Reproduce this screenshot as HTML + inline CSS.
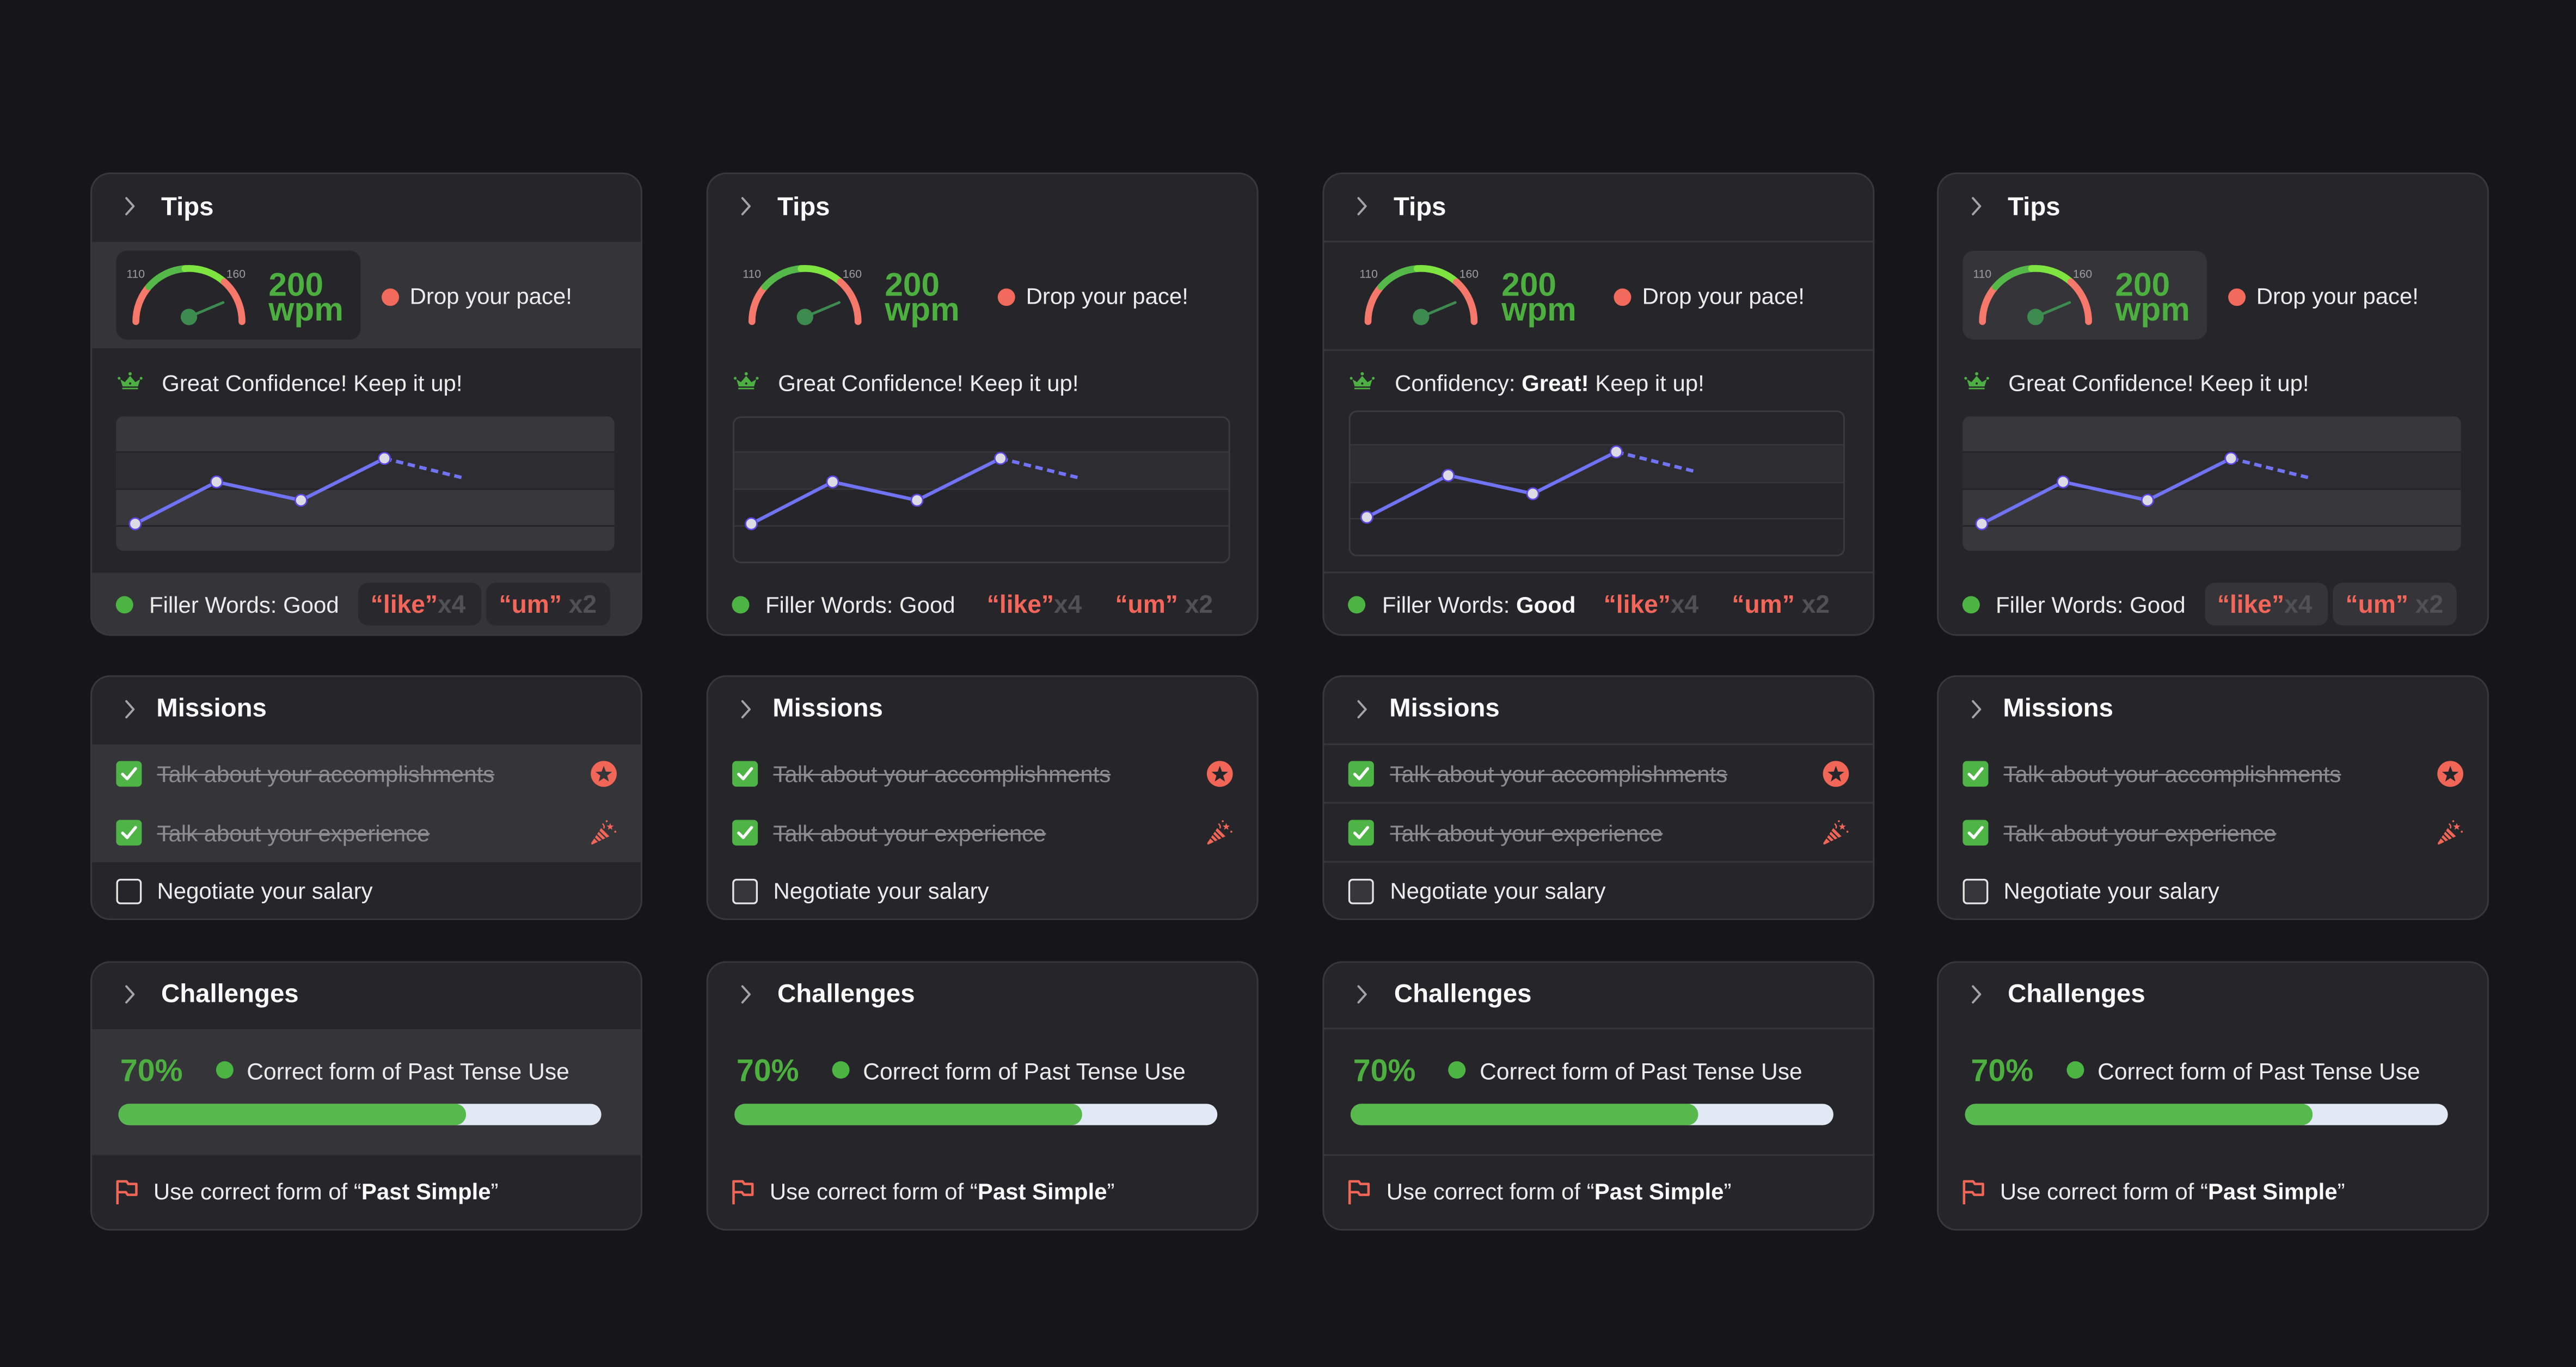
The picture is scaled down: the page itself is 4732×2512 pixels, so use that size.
<!DOCTYPE html>
<html><head><meta charset="utf-8">
<style>
*{margin:0;padding:0;box-sizing:border-box}
html,body{width:4732px;height:2512px;overflow:hidden;background:#15151a}
#root{position:absolute;left:0;top:0;width:1568px;height:832px;transform-origin:0 0;transform:scale(3.017857,3.019231);font-family:"Liberation Sans",Arial,sans-serif}
.card{position:absolute;width:336px;border-radius:12px;overflow:hidden;background:#26262a}
.bd{position:absolute;left:0;top:0;right:0;bottom:0;border:1px solid #38383d;border-radius:12px}
.card svg{position:absolute;left:0;top:0}
.t{position:absolute;white-space:nowrap;line-height:1;color:#ececec;font-size:13.9px}
.h{font-size:15.7px;font-weight:bold;color:#fafafa}
.gl{font-size:7px;color:#9c9ca1}
.g{color:#4caf3f;font-weight:bold}
.w{font-size:20px;color:#4caf3f;font-weight:bold}
.st{color:#8b8b90;text-decoration:line-through}
.chip{font-size:15.3px;font-weight:bold}
.r{color:#f4665a}
.x{color:#505055}
b{font-weight:bold;color:#fafafa}
</style></head><body><div id="root">

<!-- ================= COLUMN 1 ================= -->
<div class="card" style="left:54.6px;top:105px;height:281.5px">
<svg width="336" height="281.5" viewBox="0 0 336 281.5">
<rect x="0" y="42.2" width="336" height="64.8" fill="#343439"/>
<rect x="15.7" y="47.5" width="148.8" height="54.2" rx="6.6" fill="#26262a"/>
<rect x="0" y="243.6" width="336" height="38" fill="#343439"/>
<rect x="163.1" y="249.7" width="74.9" height="26" rx="6" fill="#28282d"/>
<rect x="240.9" y="249.7" width="75.5" height="26" rx="6" fill="#28282d"/>
<polyline points="21.9,15.6 26.3,20.5 21.9,25.4" fill="none" stroke="#a3a3a8" stroke-width="1.3" stroke-linecap="round" stroke-linejoin="round"/>
<g fill="none" stroke-width="4.2" stroke-linecap="round">
<path d="M27.7,90.7 A32.3,32.3 0 0 1 35.62,69.51" stroke="#f5786a"/>
<path d="M35.62,69.51 A32.3,32.3 0 0 1 57.64,58.49" stroke="#54b948"/>
<path d="M57.64,58.49 A32.3,32.3 0 0 1 81.49,66.58" stroke="#7ee540"/>
<path d="M81.49,66.58 A32.3,32.3 0 0 1 92.3,90.7" stroke="#f5786a"/>
</g>
<line x1="60" y1="87.9" x2="80.8" y2="79.1" stroke="#3e8b4f" stroke-width="1.6" stroke-linecap="round"/>
<circle cx="60" cy="87.9" r="5" fill="#3e8b4f"/>
<circle cx="182.6" cy="75.9" r="5.3" fill="#f26a5c"/>
<g fill="#4db043"><circle cx="17.5" cy="125.2" r="0.85"/><circle cx="24.2" cy="122.5" r="1"/><circle cx="30.9" cy="125.2" r="0.85"/>
<polygon points="18.3,125.9 19.6,130.2 29,130.2 30.3,125.9 27.4,127.6 24.2,123.8 21,127.6"/><rect x="19.4" y="131" width="9.6" height="0.9"/></g>
<circle cx="24.2" cy="128.4" r="0.7" fill="#26262a"/>
<rect x="15.7" y="148.4" width="303.3" height="81.8" rx="4.4" fill="#37373c"/>
<rect x="15.7" y="170.1" width="303.3" height="22.6" fill="#2c2c31"/>
<rect x="15.7" y="169.7" width="303.3" height="0.8" fill="#222226"/>
<rect x="15.7" y="192.4" width="303.3" height="0.8" fill="#222226"/>
<rect x="15.7" y="214.7" width="303.3" height="0.8" fill="#222226"/>
<polyline points="27.3,213.8 76.8,188.3 128.2,199.5 179,174" fill="none" stroke="#7073f3" stroke-width="2.1" stroke-linejoin="round"/>
<line x1="179" y1="174" x2="227" y2="185.9" stroke="#7073f3" stroke-width="2.1" stroke-dasharray="4.5 2.8"/>
<g fill="#dcdae4" stroke="#5a46e0" stroke-width="0.9"><circle cx="27.3" cy="213.8" r="3.5"/><circle cx="76.8" cy="188.3" r="3.5"/><circle cx="128.2" cy="199.5" r="3.5"/><circle cx="179" cy="174" r="3.5"/></g>
<circle cx="20.8" cy="263.1" r="5.3" fill="#4cb443"/>
</svg>
<div class="t h" style="left:43.5px;top:13.5px">Tips</div>
<div class="t gl" style="left:22.4px;top:58.6px">110</div>
<div class="t gl" style="left:83.2px;top:58.6px">160</div>
<div class="t w" style="left:108.9px;top:59.3px">200</div>
<div class="t w" style="left:108.9px;top:74.2px">wpm</div>
<div class="t" style="left:194.8px;top:69px">Drop your pace!</div>
<div class="t" style="left:43.9px;top:121.5px">Great Confidence! Keep it up!</div>
<div class="t" style="left:36.2px;top:256.6px">Filler Words: Good</div>
<div class="t chip" style="left:171px;top:255.8px"><span class="r">“like”</span><span class="x">x4</span></div>
<div class="t chip" style="left:249.1px;top:255.8px"><span class="r">“um”</span><span class="x"> x2</span></div>
<div class="bd"></div>
</div>

<div class="card" style="left:54.6px;top:411px;height:149px">
<svg width="336" height="149" viewBox="0 0 336 149">
<rect x="0" y="42.1" width="336" height="71.7" fill="#343439"/>
<polyline points="21.9,15.8 26.3,20.7 21.9,25.6" fill="none" stroke="#a3a3a8" stroke-width="1.3" stroke-linecap="round" stroke-linejoin="round"/>
<rect x="15.7" y="52.2" width="15.6" height="15.6" rx="2.5" fill="#4db445"/>
<polyline points="19.6,60.2 22.4,63 27.5,56.8" fill="none" stroke="#fff" stroke-width="1.8" stroke-linecap="round" stroke-linejoin="round"/>
<rect x="15.7" y="88" width="15.6" height="15.6" rx="2.5" fill="#4db445"/>
<polyline points="19.6,96 22.4,98.8 27.5,92.6" fill="none" stroke="#fff" stroke-width="1.8" stroke-linecap="round" stroke-linejoin="round"/>
<rect x="16.3" y="124.4" width="14.4" height="14.4" rx="2" fill="none" stroke="#e6e6e6" stroke-width="1.1"/>
<circle cx="312.5" cy="60" r="7.9" fill="#f26658"/>
<polygon transform="translate(312.5,60.4) scale(1.15)" points="0,-4.6 1.117,-1.537 4.375,-1.421 1.807,0.587 2.704,3.721 0,1.9 -2.704,3.721 -1.807,0.587 -4.375,-1.421 -1.117,-1.537" fill="#343439"/>
<g transform="translate(312.5,95.8)">
<path d="M-7.6,6.2 Q-7.8,7.6 -6.5,7 L3.4,2.2 L-1.6,-2.8 Z" fill="#f26658"/>
<g stroke="#343439" stroke-width="0.8"><line x1="-3" y1="-1.1" x2="1.5" y2="3.4"/><line x1="-4.3" y1="1" x2="-0.9" y2="4.4"/><line x1="-5.6" y1="3.1" x2="-3.2" y2="5.5"/></g>
<polygon transform="translate(3.9,-3.6) scale(0.5)" points="0,-4.6 1.117,-1.537 4.375,-1.421 1.807,0.587 2.704,3.721 0,1.9 -2.704,3.721 -1.807,0.587 -4.375,-1.421 -1.117,-1.537" fill="#f26658"/>
<circle cx="1.8" cy="-7" r="0.6" fill="#f26658"/><circle cx="7" cy="-0.6" r="0.6" fill="#f26658"/>
<path d="M-0.8,-5.5 Q0.8,-4 0,-2.6" fill="none" stroke="#f26658" stroke-width="0.8"/>
</g>
</svg>
<div class="t h" style="left:40.6px;top:13.4px">Missions</div>
<div class="t st" style="left:41px;top:53.7px">Talk about your accomplishments</div>
<div class="t st" style="left:41px;top:89.5px">Talk about your experience</div>
<div class="t" style="left:41px;top:125px">Negotiate your salary</div>
<div class="bd"></div>
</div>

<div class="card" style="left:54.6px;top:585.2px;height:164px">
<svg width="336" height="164" viewBox="0 0 336 164">
<rect x="0" y="41.3" width="336" height="76.7" fill="#343439"/>
<polyline points="21.9,15.3 26.3,20.2 21.9,25.1" fill="none" stroke="#a3a3a8" stroke-width="1.3" stroke-linecap="round" stroke-linejoin="round"/>
<circle cx="81.8" cy="66.2" r="5.3" fill="#4cb443"/>
<rect x="17.1" y="86.8" width="293.9" height="13" rx="6.5" fill="#e1eaf4"/>
<rect x="17.1" y="86.8" width="211.6" height="13" rx="6.5" fill="#57b94d"/>
<path d="M16.5,148 V134 H22 L23.1,135.6 H28 V142.2 H22.7 L21.6,140.6 H16.5" fill="none" stroke="#f26658" stroke-width="1.5" stroke-linejoin="round"/>
</svg>
<div class="t h" style="left:43.5px;top:13.2px">Challenges</div>
<div class="t g" style="left:18.6px;top:57.9px;font-size:19px">70%</div>
<div class="t" style="left:95.6px;top:59.5px;font-size:14.1px">Correct form of Past Tense Use</div>
<div class="t" style="left:38.8px;top:133.5px">Use correct form of “<b>Past Simple</b>”</div>
<div class="bd"></div>
</div>

<!-- ================= COLUMN 2 ================= -->
<div class="card" style="left:429.7px;top:105px;height:281.5px">
<svg width="336" height="281.5" viewBox="0 0 336 281.5">
<polyline points="21.9,15.6 26.3,20.5 21.9,25.4" fill="none" stroke="#a3a3a8" stroke-width="1.3" stroke-linecap="round" stroke-linejoin="round"/>
<g fill="none" stroke-width="4.2" stroke-linecap="round">
<path d="M27.7,90.7 A32.3,32.3 0 0 1 35.62,69.51" stroke="#f5786a"/>
<path d="M35.62,69.51 A32.3,32.3 0 0 1 57.64,58.49" stroke="#54b948"/>
<path d="M57.64,58.49 A32.3,32.3 0 0 1 81.49,66.58" stroke="#7ee540"/>
<path d="M81.49,66.58 A32.3,32.3 0 0 1 92.3,90.7" stroke="#f5786a"/>
</g>
<line x1="60" y1="87.9" x2="80.8" y2="79.1" stroke="#3e8b4f" stroke-width="1.6" stroke-linecap="round"/>
<circle cx="60" cy="87.9" r="5" fill="#3e8b4f"/>
<circle cx="182.6" cy="75.9" r="5.3" fill="#f26a5c"/>
<g fill="#4db043"><circle cx="17.5" cy="125.2" r="0.85"/><circle cx="24.2" cy="122.5" r="1"/><circle cx="30.9" cy="125.2" r="0.85"/>
<polygon points="18.3,125.9 19.6,130.2 29,130.2 30.3,125.9 27.4,127.6 24.2,123.8 21,127.6"/><rect x="19.4" y="131" width="9.6" height="0.9"/></g>
<circle cx="24.2" cy="128.4" r="0.7" fill="#26262a"/>
<rect x="17" y="170.1" width="301" height="22.5" fill="#2c2c31"/>
<rect x="17" y="169.7" width="301" height="0.8" fill="#37373c"/>
<rect x="17" y="192.3" width="301" height="0.8" fill="#37373c"/>
<rect x="17" y="214.7" width="301" height="0.8" fill="#37373c"/>
<rect x="16.5" y="148.9" width="301.8" height="88.4" rx="4.4" fill="none" stroke="#3a3a3f" stroke-width="1"/>
<polyline points="27.3,213.8 76.8,188.3 128.2,199.5 179,174" fill="none" stroke="#7073f3" stroke-width="2.1" stroke-linejoin="round"/>
<line x1="179" y1="174" x2="227" y2="185.9" stroke="#7073f3" stroke-width="2.1" stroke-dasharray="4.5 2.8"/>
<g fill="#dcdae4" stroke="#5a46e0" stroke-width="0.9"><circle cx="27.3" cy="213.8" r="3.5"/><circle cx="76.8" cy="188.3" r="3.5"/><circle cx="128.2" cy="199.5" r="3.5"/><circle cx="179" cy="174" r="3.5"/></g>
<circle cx="20.8" cy="263.1" r="5.3" fill="#4cb443"/>
</svg>
<div class="t h" style="left:43.5px;top:13.5px">Tips</div>
<div class="t gl" style="left:22.4px;top:58.6px">110</div>
<div class="t gl" style="left:83.2px;top:58.6px">160</div>
<div class="t w" style="left:108.9px;top:59.3px">200</div>
<div class="t w" style="left:108.9px;top:74.2px">wpm</div>
<div class="t" style="left:194.8px;top:69px">Drop your pace!</div>
<div class="t" style="left:43.9px;top:121.5px">Great Confidence! Keep it up!</div>
<div class="t" style="left:36.2px;top:256.6px">Filler Words: Good</div>
<div class="t chip" style="left:171px;top:255.8px"><span class="r">“like”</span><span class="x">x4</span></div>
<div class="t chip" style="left:249.1px;top:255.8px"><span class="r">“um”</span><span class="x"> x2</span></div>
<div class="bd"></div>
</div>

<div class="card" style="left:429.7px;top:411px;height:149px">
<svg width="336" height="149" viewBox="0 0 336 149">
<polyline points="21.9,15.8 26.3,20.7 21.9,25.6" fill="none" stroke="#a3a3a8" stroke-width="1.3" stroke-linecap="round" stroke-linejoin="round"/>
<rect x="15.7" y="52.2" width="15.6" height="15.6" rx="2.5" fill="#4db445"/>
<polyline points="19.6,60.2 22.4,63 27.5,56.8" fill="none" stroke="#fff" stroke-width="1.8" stroke-linecap="round" stroke-linejoin="round"/>
<rect x="15.7" y="88" width="15.6" height="15.6" rx="2.5" fill="#4db445"/>
<polyline points="19.6,96 22.4,98.8 27.5,92.6" fill="none" stroke="#fff" stroke-width="1.8" stroke-linecap="round" stroke-linejoin="round"/>
<rect x="16.3" y="124.4" width="14.4" height="14.4" rx="2" fill="#36363b" stroke="#e6e6e6" stroke-width="1.1"/>
<circle cx="312.5" cy="60" r="7.9" fill="#f26658"/>
<polygon transform="translate(312.5,60.4) scale(1.15)" points="0,-4.6 1.117,-1.537 4.375,-1.421 1.807,0.587 2.704,3.721 0,1.9 -2.704,3.721 -1.807,0.587 -4.375,-1.421 -1.117,-1.537" fill="#26262a"/>
<g transform="translate(312.5,95.8)">
<path d="M-7.6,6.2 Q-7.8,7.6 -6.5,7 L3.4,2.2 L-1.6,-2.8 Z" fill="#f26658"/>
<g stroke="#26262a" stroke-width="0.8"><line x1="-3" y1="-1.1" x2="1.5" y2="3.4"/><line x1="-4.3" y1="1" x2="-0.9" y2="4.4"/><line x1="-5.6" y1="3.1" x2="-3.2" y2="5.5"/></g>
<polygon transform="translate(3.9,-3.6) scale(0.5)" points="0,-4.6 1.117,-1.537 4.375,-1.421 1.807,0.587 2.704,3.721 0,1.9 -2.704,3.721 -1.807,0.587 -4.375,-1.421 -1.117,-1.537" fill="#f26658"/>
<circle cx="1.8" cy="-7" r="0.6" fill="#f26658"/><circle cx="7" cy="-0.6" r="0.6" fill="#f26658"/>
<path d="M-0.8,-5.5 Q0.8,-4 0,-2.6" fill="none" stroke="#f26658" stroke-width="0.8"/>
</g>
</svg>
<div class="t h" style="left:40.6px;top:13.4px">Missions</div>
<div class="t st" style="left:41px;top:53.7px">Talk about your accomplishments</div>
<div class="t st" style="left:41px;top:89.5px">Talk about your experience</div>
<div class="t" style="left:41px;top:125px">Negotiate your salary</div>
<div class="bd"></div>
</div>

<div class="card" style="left:429.7px;top:585.2px;height:164px">
<svg width="336" height="164" viewBox="0 0 336 164">
<polyline points="21.9,15.3 26.3,20.2 21.9,25.1" fill="none" stroke="#a3a3a8" stroke-width="1.3" stroke-linecap="round" stroke-linejoin="round"/>
<circle cx="81.8" cy="66.2" r="5.3" fill="#4cb443"/>
<rect x="17.1" y="86.8" width="293.9" height="13" rx="6.5" fill="#e1eaf4"/>
<rect x="17.1" y="86.8" width="211.6" height="13" rx="6.5" fill="#57b94d"/>
<path d="M16.5,148 V134 H22 L23.1,135.6 H28 V142.2 H22.7 L21.6,140.6 H16.5" fill="none" stroke="#f26658" stroke-width="1.5" stroke-linejoin="round"/>
</svg>
<div class="t h" style="left:43.5px;top:13.2px">Challenges</div>
<div class="t g" style="left:18.6px;top:57.9px;font-size:19px">70%</div>
<div class="t" style="left:95.6px;top:59.5px;font-size:14.1px">Correct form of Past Tense Use</div>
<div class="t" style="left:38.8px;top:133.5px">Use correct form of “<b>Past Simple</b>”</div>
<div class="bd"></div>
</div>

<!-- ================= COLUMN 3 ================= -->
<div class="card" style="left:805.1px;top:105px;height:281.5px">
<svg width="336" height="281.5" viewBox="0 0 336 281.5">
<rect x="0" y="41.5" width="336" height="1" fill="#36363b"/>
<rect x="0" y="107.6" width="336" height="1" fill="#36363b"/>
<rect x="0" y="242.9" width="336" height="1" fill="#36363b"/>
<polyline points="21.9,15.6 26.3,20.5 21.9,25.4" fill="none" stroke="#a3a3a8" stroke-width="1.3" stroke-linecap="round" stroke-linejoin="round"/>
<g fill="none" stroke-width="4.2" stroke-linecap="round">
<path d="M27.7,90.7 A32.3,32.3 0 0 1 35.62,69.51" stroke="#f5786a"/>
<path d="M35.62,69.51 A32.3,32.3 0 0 1 57.64,58.49" stroke="#54b948"/>
<path d="M57.64,58.49 A32.3,32.3 0 0 1 81.49,66.58" stroke="#7ee540"/>
<path d="M81.49,66.58 A32.3,32.3 0 0 1 92.3,90.7" stroke="#f5786a"/>
</g>
<line x1="60" y1="87.9" x2="80.8" y2="79.1" stroke="#3e8b4f" stroke-width="1.6" stroke-linecap="round"/>
<circle cx="60" cy="87.9" r="5" fill="#3e8b4f"/>
<circle cx="182.6" cy="75.9" r="5.3" fill="#f26a5c"/>
<g fill="#4db043"><circle cx="17.5" cy="125.2" r="0.85"/><circle cx="24.2" cy="122.5" r="1"/><circle cx="30.9" cy="125.2" r="0.85"/>
<polygon points="18.3,125.9 19.6,130.2 29,130.2 30.3,125.9 27.4,127.6 24.2,123.8 21,127.6"/><rect x="19.4" y="131" width="9.6" height="0.9"/></g>
<circle cx="24.2" cy="128.4" r="0.7" fill="#26262a"/>
<rect x="17" y="165.7" width="300" height="23.1" fill="#2c2c31"/>
<rect x="17" y="165.3" width="300" height="0.8" fill="#37373c"/>
<rect x="17" y="188.4" width="300" height="0.8" fill="#37373c"/>
<rect x="17" y="210.3" width="300" height="0.8" fill="#37373c"/>
<rect x="16.5" y="145.3" width="301" height="87.8" rx="4.4" fill="none" stroke="#3a3a3f" stroke-width="1"/>
<polyline points="27,209.8 76.5,184.3 128,195.5 178.8,170" fill="none" stroke="#7073f3" stroke-width="2.1" stroke-linejoin="round"/>
<line x1="178.8" y1="170" x2="226.6" y2="181.9" stroke="#7073f3" stroke-width="2.1" stroke-dasharray="4.5 2.8"/>
<g fill="#dcdae4" stroke="#5a46e0" stroke-width="0.9"><circle cx="27" cy="209.8" r="3.5"/><circle cx="76.5" cy="184.3" r="3.5"/><circle cx="128" cy="195.5" r="3.5"/><circle cx="178.8" cy="170" r="3.5"/></g>
<circle cx="20.8" cy="263.1" r="5.3" fill="#4cb443"/>
</svg>
<div class="t h" style="left:43.2px;top:13.5px">Tips</div>
<div class="t gl" style="left:22.4px;top:58.6px">110</div>
<div class="t gl" style="left:83.2px;top:58.6px">160</div>
<div class="t w" style="left:108.9px;top:59.3px">200</div>
<div class="t w" style="left:108.9px;top:74.2px">wpm</div>
<div class="t" style="left:194.5px;top:69px">Drop your pace!</div>
<div class="t" style="left:43.9px;top:121.5px">Confidency: <b>Great!</b> Keep it up!</div>
<div class="t" style="left:36.2px;top:256.6px">Filler Words: <b>Good</b></div>
<div class="t chip" style="left:171px;top:255.8px"><span class="r">“like”</span><span class="x">x4</span></div>
<div class="t chip" style="left:249.1px;top:255.8px"><span class="r">“um”</span><span class="x"> x2</span></div>
<div class="bd"></div>
</div>

<div class="card" style="left:805.1px;top:411px;height:149px">
<svg width="336" height="149" viewBox="0 0 336 149">
<rect x="0" y="41.5" width="336" height="1" fill="#36363b"/>
<rect x="0" y="77.1" width="336" height="1" fill="#36363b"/>
<rect x="0" y="113" width="336" height="1" fill="#36363b"/>
<polyline points="21.9,15.8 26.3,20.7 21.9,25.6" fill="none" stroke="#a3a3a8" stroke-width="1.3" stroke-linecap="round" stroke-linejoin="round"/>
<rect x="15.7" y="52.2" width="15.6" height="15.6" rx="2.5" fill="#4db445"/>
<polyline points="19.6,60.2 22.4,63 27.5,56.8" fill="none" stroke="#fff" stroke-width="1.8" stroke-linecap="round" stroke-linejoin="round"/>
<rect x="15.7" y="88" width="15.6" height="15.6" rx="2.5" fill="#4db445"/>
<polyline points="19.6,96 22.4,98.8 27.5,92.6" fill="none" stroke="#fff" stroke-width="1.8" stroke-linecap="round" stroke-linejoin="round"/>
<rect x="16.3" y="124.4" width="14.4" height="14.4" rx="2" fill="#36363b" stroke="#e6e6e6" stroke-width="1.1"/>
<circle cx="312.5" cy="60" r="7.9" fill="#f26658"/>
<polygon transform="translate(312.5,60.4) scale(1.15)" points="0,-4.6 1.117,-1.537 4.375,-1.421 1.807,0.587 2.704,3.721 0,1.9 -2.704,3.721 -1.807,0.587 -4.375,-1.421 -1.117,-1.537" fill="#26262a"/>
<g transform="translate(312.5,95.8)">
<path d="M-7.6,6.2 Q-7.8,7.6 -6.5,7 L3.4,2.2 L-1.6,-2.8 Z" fill="#f26658"/>
<g stroke="#26262a" stroke-width="0.8"><line x1="-3" y1="-1.1" x2="1.5" y2="3.4"/><line x1="-4.3" y1="1" x2="-0.9" y2="4.4"/><line x1="-5.6" y1="3.1" x2="-3.2" y2="5.5"/></g>
<polygon transform="translate(3.9,-3.6) scale(0.5)" points="0,-4.6 1.117,-1.537 4.375,-1.421 1.807,0.587 2.704,3.721 0,1.9 -2.704,3.721 -1.807,0.587 -4.375,-1.421 -1.117,-1.537" fill="#f26658"/>
<circle cx="1.8" cy="-7" r="0.6" fill="#f26658"/><circle cx="7" cy="-0.6" r="0.6" fill="#f26658"/>
<path d="M-0.8,-5.5 Q0.8,-4 0,-2.6" fill="none" stroke="#f26658" stroke-width="0.8"/>
</g>
</svg>
<div class="t h" style="left:40.6px;top:13.4px">Missions</div>
<div class="t st" style="left:41px;top:53.7px">Talk about your accomplishments</div>
<div class="t st" style="left:41px;top:89.5px">Talk about your experience</div>
<div class="t" style="left:41px;top:125px">Negotiate your salary</div>
<div class="bd"></div>
</div>

<div class="card" style="left:805.1px;top:585.2px;height:164px">
<svg width="336" height="164" viewBox="0 0 336 164">
<rect x="0" y="40.5" width="336" height="1" fill="#36363b"/>
<rect x="0" y="117.5" width="336" height="1" fill="#36363b"/>
<polyline points="21.9,15.3 26.3,20.2 21.9,25.1" fill="none" stroke="#a3a3a8" stroke-width="1.3" stroke-linecap="round" stroke-linejoin="round"/>
<circle cx="81.8" cy="66.2" r="5.3" fill="#4cb443"/>
<rect x="17.1" y="86.8" width="293.9" height="13" rx="6.5" fill="#e1eaf4"/>
<rect x="17.1" y="86.8" width="211.6" height="13" rx="6.5" fill="#57b94d"/>
<path d="M16.5,148 V134 H22 L23.1,135.6 H28 V142.2 H22.7 L21.6,140.6 H16.5" fill="none" stroke="#f26658" stroke-width="1.5" stroke-linejoin="round"/>
</svg>
<div class="t h" style="left:43.5px;top:13.2px">Challenges</div>
<div class="t g" style="left:18.6px;top:57.9px;font-size:19px">70%</div>
<div class="t" style="left:95.6px;top:59.5px;font-size:14.1px">Correct form of Past Tense Use</div>
<div class="t" style="left:38.8px;top:133.5px">Use correct form of “<b>Past Simple</b>”</div>
<div class="bd"></div>
</div>

<!-- ================= COLUMN 4 ================= -->
<div class="card" style="left:1178.6px;top:105px;height:281.5px">
<svg width="336" height="281.5" viewBox="0 0 336 281.5">
<rect x="15.7" y="47.7" width="148.6" height="53.9" rx="6.6" fill="#343439"/>
<rect x="163.1" y="249.7" width="74.9" height="26" rx="6" fill="#343439"/>
<rect x="240.9" y="249.7" width="75.5" height="26" rx="6" fill="#343439"/>
<polyline points="21.9,15.6 26.3,20.5 21.9,25.4" fill="none" stroke="#a3a3a8" stroke-width="1.3" stroke-linecap="round" stroke-linejoin="round"/>
<g fill="none" stroke-width="4.2" stroke-linecap="round">
<path d="M27.7,90.7 A32.3,32.3 0 0 1 35.62,69.51" stroke="#f5786a"/>
<path d="M35.62,69.51 A32.3,32.3 0 0 1 57.64,58.49" stroke="#54b948"/>
<path d="M57.64,58.49 A32.3,32.3 0 0 1 81.49,66.58" stroke="#7ee540"/>
<path d="M81.49,66.58 A32.3,32.3 0 0 1 92.3,90.7" stroke="#f5786a"/>
</g>
<line x1="60" y1="87.9" x2="80.8" y2="79.1" stroke="#3e8b4f" stroke-width="1.6" stroke-linecap="round"/>
<circle cx="60" cy="87.9" r="5" fill="#3e8b4f"/>
<circle cx="182.6" cy="75.9" r="5.3" fill="#f26a5c"/>
<g fill="#4db043"><circle cx="17.5" cy="125.2" r="0.85"/><circle cx="24.2" cy="122.5" r="1"/><circle cx="30.9" cy="125.2" r="0.85"/>
<polygon points="18.3,125.9 19.6,130.2 29,130.2 30.3,125.9 27.4,127.6 24.2,123.8 21,127.6"/><rect x="19.4" y="131" width="9.6" height="0.9"/></g>
<circle cx="24.2" cy="128.4" r="0.7" fill="#26262a"/>
<rect x="15.7" y="148.4" width="303.3" height="81.8" rx="4.4" fill="#37373c"/>
<rect x="15.7" y="170.1" width="303.3" height="22.6" fill="#2c2c31"/>
<rect x="15.7" y="169.7" width="303.3" height="0.8" fill="#222226"/>
<rect x="15.7" y="192.4" width="303.3" height="0.8" fill="#222226"/>
<rect x="15.7" y="214.7" width="303.3" height="0.8" fill="#222226"/>
<polyline points="27.3,213.8 76.8,188.3 128.2,199.5 179,174" fill="none" stroke="#7073f3" stroke-width="2.1" stroke-linejoin="round"/>
<line x1="179" y1="174" x2="227" y2="185.9" stroke="#7073f3" stroke-width="2.1" stroke-dasharray="4.5 2.8"/>
<g fill="#dcdae4" stroke="#5a46e0" stroke-width="0.9"><circle cx="27.3" cy="213.8" r="3.5"/><circle cx="76.8" cy="188.3" r="3.5"/><circle cx="128.2" cy="199.5" r="3.5"/><circle cx="179" cy="174" r="3.5"/></g>
<circle cx="20.8" cy="263.1" r="5.3" fill="#4cb443"/>
</svg>
<div class="t h" style="left:43.5px;top:13.5px">Tips</div>
<div class="t gl" style="left:22.4px;top:58.6px">110</div>
<div class="t gl" style="left:83.2px;top:58.6px">160</div>
<div class="t w" style="left:108.9px;top:59.3px">200</div>
<div class="t w" style="left:108.9px;top:74.2px">wpm</div>
<div class="t" style="left:194.8px;top:69px">Drop your pace!</div>
<div class="t" style="left:43.9px;top:121.5px">Great Confidence! Keep it up!</div>
<div class="t" style="left:36.2px;top:256.6px">Filler Words: Good</div>
<div class="t chip" style="left:171px;top:255.8px"><span class="r">“like”</span><span class="x">x4</span></div>
<div class="t chip" style="left:249.1px;top:255.8px"><span class="r">“um”</span><span class="x"> x2</span></div>
<div class="bd"></div>
</div>

<div class="card" style="left:1178.6px;top:411px;height:149px">
<svg width="336" height="149" viewBox="0 0 336 149">
<polyline points="21.9,15.8 26.3,20.7 21.9,25.6" fill="none" stroke="#a3a3a8" stroke-width="1.3" stroke-linecap="round" stroke-linejoin="round"/>
<rect x="15.7" y="52.2" width="15.6" height="15.6" rx="2.5" fill="#4db445"/>
<polyline points="19.6,60.2 22.4,63 27.5,56.8" fill="none" stroke="#fff" stroke-width="1.8" stroke-linecap="round" stroke-linejoin="round"/>
<rect x="15.7" y="88" width="15.6" height="15.6" rx="2.5" fill="#4db445"/>
<polyline points="19.6,96 22.4,98.8 27.5,92.6" fill="none" stroke="#fff" stroke-width="1.8" stroke-linecap="round" stroke-linejoin="round"/>
<rect x="16.3" y="124.4" width="14.4" height="14.4" rx="2" fill="#36363b" stroke="#e6e6e6" stroke-width="1.1"/>
<circle cx="312.5" cy="60" r="7.9" fill="#f26658"/>
<polygon transform="translate(312.5,60.4) scale(1.15)" points="0,-4.6 1.117,-1.537 4.375,-1.421 1.807,0.587 2.704,3.721 0,1.9 -2.704,3.721 -1.807,0.587 -4.375,-1.421 -1.117,-1.537" fill="#26262a"/>
<g transform="translate(312.5,95.8)">
<path d="M-7.6,6.2 Q-7.8,7.6 -6.5,7 L3.4,2.2 L-1.6,-2.8 Z" fill="#f26658"/>
<g stroke="#26262a" stroke-width="0.8"><line x1="-3" y1="-1.1" x2="1.5" y2="3.4"/><line x1="-4.3" y1="1" x2="-0.9" y2="4.4"/><line x1="-5.6" y1="3.1" x2="-3.2" y2="5.5"/></g>
<polygon transform="translate(3.9,-3.6) scale(0.5)" points="0,-4.6 1.117,-1.537 4.375,-1.421 1.807,0.587 2.704,3.721 0,1.9 -2.704,3.721 -1.807,0.587 -4.375,-1.421 -1.117,-1.537" fill="#f26658"/>
<circle cx="1.8" cy="-7" r="0.6" fill="#f26658"/><circle cx="7" cy="-0.6" r="0.6" fill="#f26658"/>
<path d="M-0.8,-5.5 Q0.8,-4 0,-2.6" fill="none" stroke="#f26658" stroke-width="0.8"/>
</g>
</svg>
<div class="t h" style="left:40.6px;top:13.4px">Missions</div>
<div class="t st" style="left:41px;top:53.7px">Talk about your accomplishments</div>
<div class="t st" style="left:41px;top:89.5px">Talk about your experience</div>
<div class="t" style="left:41px;top:125px">Negotiate your salary</div>
<div class="bd"></div>
</div>

<div class="card" style="left:1178.6px;top:585.2px;height:164px">
<svg width="336" height="164" viewBox="0 0 336 164">
<polyline points="21.9,15.3 26.3,20.2 21.9,25.1" fill="none" stroke="#a3a3a8" stroke-width="1.3" stroke-linecap="round" stroke-linejoin="round"/>
<circle cx="84.3" cy="66.2" r="5.3" fill="#4cb443"/>
<rect x="17.1" y="86.8" width="293.9" height="13" rx="6.5" fill="#e1eaf4"/>
<rect x="17.1" y="86.8" width="211.6" height="13" rx="6.5" fill="#57b94d"/>
<path d="M16.5,148 V134 H22 L23.1,135.6 H28 V142.2 H22.7 L21.6,140.6 H16.5" fill="none" stroke="#f26658" stroke-width="1.5" stroke-linejoin="round"/>
</svg>
<div class="t h" style="left:43.5px;top:13.2px">Challenges</div>
<div class="t g" style="left:21.1px;top:57.9px;font-size:19px">70%</div>
<div class="t" style="left:98.2px;top:59.5px;font-size:14.1px">Correct form of Past Tense Use</div>
<div class="t" style="left:38.8px;top:133.5px">Use correct form of “<b>Past Simple</b>”</div>
<div class="bd"></div>
</div>

</div></body></html>
